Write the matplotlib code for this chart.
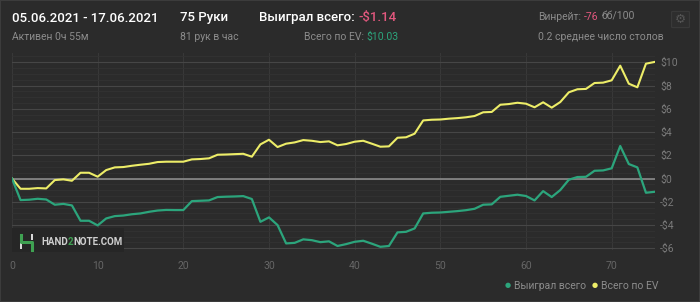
import numpy as np
import matplotlib
matplotlib.use("Agg")
import matplotlib.pyplot as plt
from matplotlib.ticker import MultipleLocator, FuncFormatter
from matplotlib.patches import Rectangle, FancyBboxPatch
from matplotlib.text import Annotation

plt.rcParams['font.family'] = ['Roboto', 'DejaVu Sans']

# hands 0..75
hands = list(range(76))

won_total = [0, -1.85, -1.82, -1.74, -1.8, -2.25, -2.18, -2.31, -3.63, -3.63,
             -4.03, -3.43, -3.23, -3.18, -3.07, -3.0, -2.86, -2.75, -2.7, -2.71,
             -2.71, -1.94, -1.91, -1.88, -1.59, -1.56, -1.54, -1.51, -1.76, -3.72,
             -3.34, -4.0, -5.58, -5.53, -5.23, -5.3, -5.47, -5.4, -5.8, -5.64,
             -5.44, -5.35, -5.6, -5.87, -5.8, -4.63, -4.58, -4.29, -3.0, -2.94,
             -2.92, -2.86, -2.8, -2.72, -2.6, -2.25, -2.22, -1.57, -1.48, -1.39,
             -1.5, -1.88, -1.08, -1.59, -0.99, -0.1, 0.13, 0.15, 0.67, 0.7,
             0.88, 2.8, 1.25, 0.96, -1.22, -1.14]

ev_total = [0, -0.88, -0.88, -0.82, -0.85, -0.13, -0.07, -0.19, 0.5, 0.5,
            0.16, 0.73, 0.96, 0.99, 1.1, 1.19, 1.27, 1.42, 1.45, 1.45,
            1.45, 1.65, 1.68, 1.74, 2.05, 2.07, 2.1, 2.13, 1.88, 2.94,
            3.34, 2.71, 3.0, 3.11, 3.31, 3.25, 3.14, 3.2, 2.86, 2.97,
            3.17, 3.25, 3.0, 2.74, 2.77, 3.51, 3.55, 3.86, 5.0, 5.06,
            5.08, 5.15, 5.2, 5.27, 5.38, 5.7, 5.73, 6.35, 6.41, 6.52,
            6.44, 6.13, 6.56, 6.1, 6.58, 7.42, 7.68, 7.71, 8.22, 8.25,
            8.45, 9.71, 8.16, 7.85, 9.88, 10.03]

BG = '#2b2b2b'
GREEN = '#2ca57c'
YELLOW = '#eded68'
PINK = '#e2587e'
GREY = '#8c8c8c'

fig = plt.figure(figsize=(7, 3.02), dpi=100, facecolor=BG)
fig.patches.append(Rectangle((0, 0), 1, 1, transform=fig.transFigure,
                             facecolor='none', edgecolor='#3c3c3c', lw=1.5))

ax = fig.add_axes([0.0171, 0.172, 0.9179, 0.6525])
ax.set_facecolor(BG)
ax.plot(hands, ev_total, color=YELLOW, lw=1.5, zorder=3)
ax.plot(hands, won_total, color=GREEN, lw=1.6, zorder=3)
ax.axhline(0, color='#8a8a8a', lw=1.2, zorder=2)

ax.set_xlim(0, 75)
ax.set_ylim(-6.15, 10.8)
ax.xaxis.set_major_locator(MultipleLocator(10))
ax.yaxis.set_major_locator(MultipleLocator(2))
ax.yaxis.set_minor_locator(MultipleLocator(0.5))
ax.yaxis.tick_right()
ax.yaxis.set_major_formatter(FuncFormatter(lambda v, p: ('-$%d' % abs(v)) if v < 0 else '$%d' % v))
ax.tick_params(axis='both', which='both', length=0, labelsize=7.5, labelcolor='#7a7a7a')
ax.tick_params(axis='y', pad=4)
ax.tick_params(axis='x', pad=8, labelcolor='#666666')
ax.grid(axis='y', which='major', color='#464646', lw=0.8)
ax.grid(axis='y', which='minor', color='#333333', lw=0.6)
ax.grid(axis='x', which='major', color='#383838', lw=0.8)
for s in ax.spines.values():
    s.set_visible(False)


def t(x, y, s, **kw):
    return fig.text(x / 700, 1 - y / 302, s, va='center', **kw)


def after(prev, s, gap=0, **kw):
    # put a text right after the previous one on the same line
    a = Annotation(s, xy=(1, 0.5), xycoords=prev, xytext=(gap, 0),
                   textcoords='offset points', va='center', ha='left', **kw)
    fig.add_artist(a)
    return a


# watermark
fig.patches.append(Rectangle((12 / 700, 1 - 252 / 302), 112 / 700, 24 / 302,
                             transform=fig.transFigure, facecolor='#262626',
                             edgecolor='none', zorder=4))
fig.patches.append(Rectangle((20 / 700, 1 - 249 / 302), 2.2 / 700, 6 / 302,
                             transform=fig.transFigure, facecolor='#d8d8d8', zorder=5))
fig.patches.append(Rectangle((31 / 700, 1 - 240 / 302), 2.2 / 700, 6 / 302,
                             transform=fig.transFigure, facecolor='#d8d8d8', zorder=5))
fig.lines.append(plt.Line2D([21 / 700, 21 / 700, 32 / 700, 32 / 700],
                            [1 - 235 / 302, 1 - 242 / 302, 1 - 242 / 302, 1 - 250 / 302],
                            transform=fig.transFigure, color='#3fa152', lw=2.2, zorder=6))
w1 = t(41, 242, 'HAND', color='#cfcfcf', fontsize=7, fontweight='bold', zorder=6)
w2 = after(w1, '2', color='#3fa152', fontsize=7, fontweight='bold', zorder=6)
after(w2, 'NOTE.COM', color='#cfcfcf', fontsize=7, fontweight='bold', zorder=6)

# header
t(12, 18, '05.06.2021 - 17.06.2021', color='white', fontsize=9.5, fontweight='medium')
t(12, 37, 'Активен 0ч 55м', color=GREY, fontsize=7.5)
t(180, 18, '75 Руки', color='white', fontsize=9.5, fontweight='medium')
t(180, 37, '81 рук в час', color=GREY, fontsize=7.5)
h1 = t(259, 18, 'Выиграл всего:', color='white', fontsize=9.5, fontweight='medium')
after(h1, '-$1.14', gap=2.5, color=PINK, fontsize=9.5, fontweight='medium')
h2 = t(304, 37, 'Всего по EV:', color=GREY, fontsize=7.5)
after(h2, '$10.03', gap=2, color=GREEN, fontsize=7.5)
r1 = t(538, 17, 'Винрейт:', color=GREY, fontsize=7.5)
r2 = after(r1, '-76', gap=2, color=PINK, fontsize=7.5)
after(r2, 'бб/100', gap=2, color=GREY, fontsize=7.5)
t(538, 37, '0.2 среднее число столов', color=GREY, fontsize=7.5)
fig.patches.append(FancyBboxPatch((673 / 700, 1 - 27 / 302), 15 / 700, 15 / 302,
                                  boxstyle='round,pad=0.002', transform=fig.transFigure,
                                  facecolor='#2e2e2e', edgecolor='#3a3a3a', lw=0.8))
fig.text(680.5 / 700, 1 - 19.5 / 302, '\u2699', color='#555555', fontsize=9,
         ha='center', va='center', family='DejaVu Sans')

# legend
t(508, 286, '\u25cf', color=GREEN, fontsize=5, ha='center')
t(514, 286, 'Выиграл всего', color=GREY, fontsize=7.5)
t(595, 286, '\u25cf', color=YELLOW, fontsize=5, ha='center')
t(601, 286, 'Всего по EV', color=GREY, fontsize=7.5)

fig.savefig('out.png', dpi=100, facecolor=BG)
